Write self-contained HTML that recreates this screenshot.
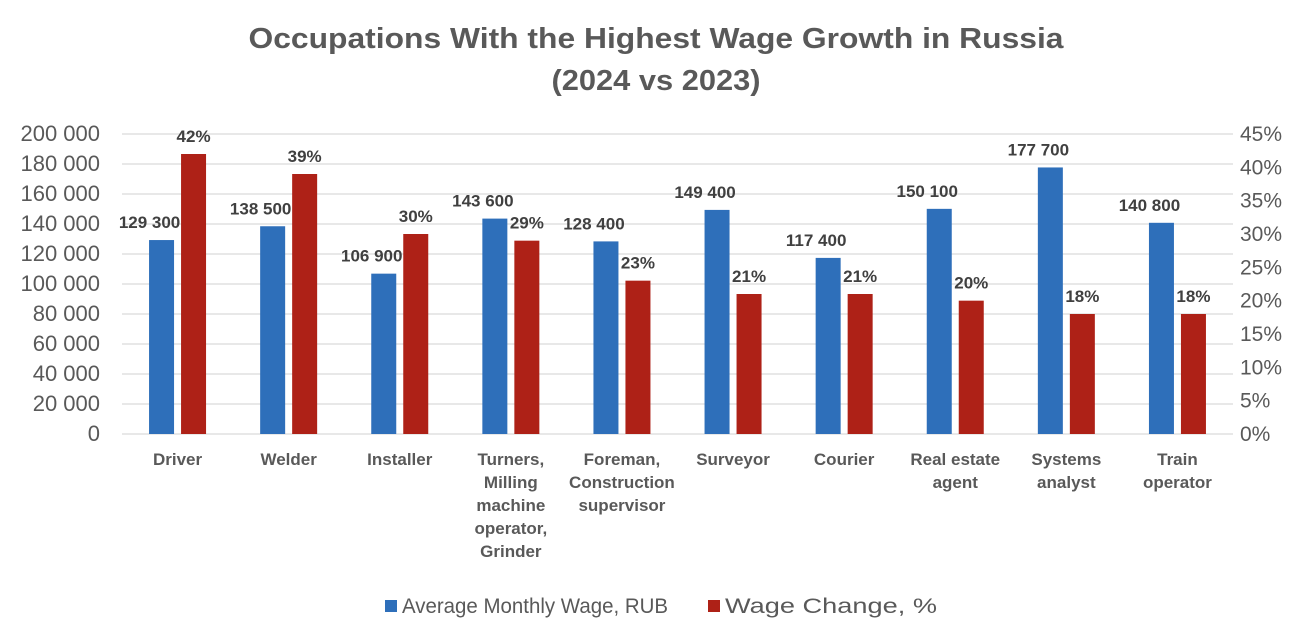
<!DOCTYPE html>
<html><head><meta charset="utf-8"><style>
body{margin:0;background:#fff;}
svg{display:block;font-family:"Liberation Sans",sans-serif;}
</style></head><body>
<svg id="chart" width="1312" height="640" viewBox="0 0 1312 640" xmlns="http://www.w3.org/2000/svg">
<rect width="1312" height="640" fill="#fff"/>
<text x="656" y="48" text-anchor="middle" font-size="29" font-weight="bold" fill="#595959" textLength="815" lengthAdjust="spacingAndGlyphs">Occupations With the Highest Wage Growth in Russia</text>
<text x="656" y="90" text-anchor="middle" font-size="29" font-weight="bold" fill="#595959" textLength="209" lengthAdjust="spacingAndGlyphs">(2024 vs 2023)</text>
<g id="grid"></g><g id="bars"></g><g id="labels"></g><g id="axes"></g>
<g>
<rect x="385" y="600" width="12" height="12" fill="#2e6fba"/>
<text x="402" y="613" font-size="21" fill="#595959" textLength="266" lengthAdjust="spacingAndGlyphs">Average Monthly Wage, RUB</text>
<rect x="708" y="600" width="12" height="12" fill="#ae2117"/>
<text x="725" y="613" font-size="21" fill="#595959" textLength="212" lengthAdjust="spacingAndGlyphs">Wage Change, %</text>
</g>
</svg>
<script>
const categories=[["Driver"],["Welder"],["Installer"],["Turners,","Milling","machine","operator,","Grinder"],["Foreman,","Construction","supervisor"],["Surveyor"],["Courier"],["Real estate","agent"],["Systems","analyst"],["Train","operator"]];
const wages=[129300,138500,106900,143600,128400,149400,117400,150100,177700,140800];
const changes=[42,39,30,29,23,21,21,20,18,18];
const leftTicks=[0,20000,40000,60000,80000,100000,120000,140000,160000,180000,200000];
const rightTicks=[0,5,10,15,20,25,30,35,40,45];
const NS="http://www.w3.org/2000/svg";
const X0=122,X1=1233,Y0=434,Y1=134;
const bw=(X1-X0)/categories.length;
const yL=v=>Y0-(v/200000)*(Y0-Y1);
const yR=v=>Y0-(v/45)*(Y0-Y1);
function el(tag,attrs,parent,txt){const e=document.createElementNS(NS,tag);for(const k in attrs)e.setAttribute(k,attrs[k]);if(txt!==undefined)e.textContent=txt;document.getElementById(parent).appendChild(e);return e;}
const fmt=v=>String(v).replace(/\B(?=(\d{3})+(?!\d))/g," ");
leftTicks.forEach(t=>{
  const y=yL(t);
  const g=el('line',{x1:X0,x2:X1,y1:y,y2:y,stroke:'#d9d9d9','stroke-width':1.3},'grid');
  
  
  const l=el('text',{x:100,y:y+7,'text-anchor':'end','font-size':22,fill:'#595959'},'axes',fmt(t));
  
  
});
rightTicks.forEach(t=>{
  const r=el('text',{x:1240,y:yR(t)+7,'font-size':21,fill:'#595959'},'axes',t+'%');
  
  
});
categories.forEach((c,i)=>{
  const cx=X0+bw*(i+0.5);
  const bx=cx-28.5, rx=cx+3.5;
  const b=el('rect',{x:bx,y:yL(wages[i]),width:25,height:Y0-yL(wages[i]),fill:'#2e6fba'},'bars');
  
  
  const r=el('rect',{x:rx,y:yR(changes[i]),width:25,height:Y0-yR(changes[i]),fill:'#ae2117'},'bars');
  
  
  const wl=el('text',{x:bx+12.5-12,y:yL(wages[i])-12,'text-anchor':'middle','font-size':17,'font-weight':'bold',fill:'#404040'},'labels',fmt(wages[i]));
  
  
  const cl=el('text',{x:rx+12.5,y:yR(changes[i])-12,'text-anchor':'middle','font-size':17,'font-weight':'bold',fill:'#404040'},'labels',changes[i]+'%');
  
  
  c.forEach((line,j)=>{
    const t=el('text',{x:cx,y:465+j*23,'text-anchor':'middle','font-size':17,'font-weight':'bold',fill:'#595959'},'axes',line);
    
    
  });
});
</script>
</body></html>
